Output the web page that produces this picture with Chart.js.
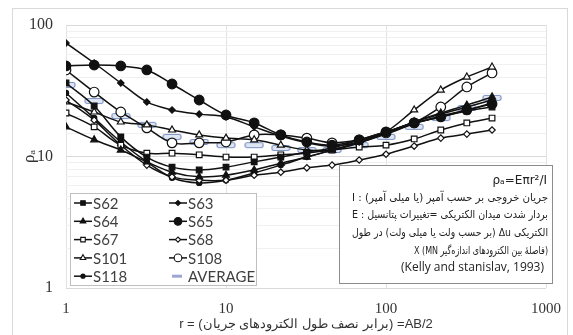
<!DOCTYPE html>
<html>
<head>
<meta charset="utf-8">
<script src="https://cdn.jsdelivr.net/npm/chart.js@4.4.1/dist/chart.umd.min.js"></script>
<style>
  html, body { margin: 0; padding: 0; background: #fff; }
  canvas { display: block; }
</style>
</head>
<body>
<canvas id="chart" width="573" height="335" style="width:573px;height:335px"></canvas>
<script>
// AB/2 values (m)
const rValues = [1, 1.5, 2.2, 3.2, 4.6, 6.8, 10, 15, 22, 32, 46, 68, 100, 150, 220, 320, 460];

// apparent resistivity for each sounding
const s62  = [36.2, 24.2, 14.1, 9.9, 8.3, 7.9, 8.3, 9.1, 9.9, 10.8, 11.6, 13.4, 15.4, 18.0, 20.0, 22.2, 23.8];
const s63  = [73.0, 51.4, 36.2, 26.0, 22.6, 21.0, 20.0, 16.8, 14.3, 12.7, 12.0, 12.9, 15.1, 18.3, 21.0, 23.8, 26.9];
const s64  = [16.8, 13.4, 11.2, 9.1, 7.6, 7.0, 7.2, 7.9, 8.9, 9.9, 11.2, 12.9, 15.1, 18.3, 21.4, 24.6, 28.4];
const s65  = [48.8, 49.6, 48.8, 45.5, 35.6, 26.9, 20.7, 18.0, 14.6, 12.9, 12.2, 13.4, 15.4, 18.0, 20.0, 22.6, 25.1];
const s67  = [21.4, 16.8, 12.2, 10.6, 10.6, 10.3, 9.9, 9.9, 10.3, 10.6, 11.2, 11.8, 12.2, 13.6, 15.9, 18.0, 19.6];
const s68  = [26.9, 18.9, 12.2, 8.6, 7.0, 6.6, 6.6, 7.2, 7.6, 8.2, 8.6, 9.4, 10.4, 12.0, 13.8, 14.8, 15.9];
const s101 = [26.0, 21.8, 18.3, 17.4, 15.9, 14.6, 13.8, 13.4, 12.2, 11.2, 11.2, 12.7, 15.4, 22.6, 32.0, 40.2, 47.9];
const s108 = [45.5, 30.9, 21.8, 16.5, 12.7, 12.7, 12.9, 14.6, 14.6, 13.8, 12.7, 13.4, 15.1, 18.0, 23.8, 33.8, 43.2];
const s118 = [30.4, 19.6, 12.9, 9.1, 6.9, 6.3, 6.6, 7.5, 8.6, 9.9, 11.2, 12.7, 14.8, 17.7, 20.3, 22.6, 25.5];
const averageValues = [35.0, 26.4, 20.3, 17.4, 14.1, 12.9, 12.2, 12.2, 11.6, 11.2, 11.2, 12.2, 14.1, 16.8, 19.6, 23.4, 27.9];

const xTickValues = [1, 10, 100, 1000];
const yTickValues = [1, 10, 100];

const xTitle = "r = (برابر نصف طول الکترودهای جریان) =AB/2";
const yTitle = "ρₐ";

const noteLines = [
  "جریان خروجی بر حسب آمپر (یا میلی آمپر) : I",
  "بردار شدت میدان الکتریکی =تغییرات پتانسیل : E",
  "الکتریکی Δu (بر حسب ولت یا میلی ولت) در طول",
  "(فاصلهٔ بین الکترودهای اندازه‌گیر MN)\u200F X"
];
const noteFormula = "ρₐ=Eπr²/I";
const noteSource = "(Kelly and stanislav, 1993)";

// marker for the AVERAGE series: small outlined dash
function makeAverageMarker() {
  const c = document.createElement("canvas");
  c.width = 20;
  c.height = 8;
  const g = c.getContext("2d");
  g.fillStyle = "#dfe6f3";
  g.strokeStyle = "#7d93c4";
  g.lineWidth = 1.2;
  g.beginPath();
  g.roundRect(1, 1.5, 18, 5, 2);
  g.fill();
  g.stroke();
  return c;
}
const avgMarker = makeAverageMarker();

function series(label, values, style, radius, filled) {
  return {
    label: label,
    data: rValues.map(function(r, i) { return { x: r, y: values[i] }; }),
    borderColor: "#111",
    borderWidth: 1.5,
    tension: 0.35,
    pointStyle: style,
    pointRadius: radius,
    pointBorderWidth: 1.2,
    pointBorderColor: "#111",
    pointBackgroundColor: filled ? "#111" : "#fff",
    fill: false
  };
}

const datasets = [
  series("S62", s62, "rect", 4, true),
  series("S63", s63, "rectRot", 3.2, true),
  series("S64", s64, "triangle", 4, true),
  series("S65", s65, "circle", 4.8, true),
  series("S67", s67, "rect", 4, false),
  series("S68", s68, "rectRot", 3.2, false),
  series("S101", s101, "triangle", 4, false),
  series("S108", s108, "circle", 4.8, false),
  series("S118", s118, "circle", 2.6, true),
  {
    label: "AVERAGE",
    data: rValues.map(function(r, i) { return { x: r, y: averageValues[i] }; }),
    showLine: false,
    pointStyle: avgMarker,
    pointRadius: 8,
    borderColor: "#7d93c4",
    backgroundColor: "#dfe6f3"
  }
];

const framePlugin = {
  id: "frame",
  beforeDraw: function(chart) {
    const ctx = chart.ctx;
    ctx.save();
    ctx.fillStyle = "#fff";
    ctx.fillRect(0, 0, chart.width, chart.height);
    ctx.strokeStyle = "#d9d9d9";
    ctx.lineWidth = 1;
    ctx.strokeRect(12.5, 8.5, 555, 340);
    ctx.restore();
  }
};

const legendBoxPlugin = {
  id: "legendBox",
  afterDraw: function(chart) {
    const ctx = chart.ctx;
    ctx.save();
    ctx.fillStyle = "#fff";
    ctx.strokeStyle = "#bfbfbf";
    ctx.lineWidth = 1;
    ctx.fillRect(70.5, 193.5, 186, 92);
    ctx.strokeRect(70.5, 193.5, 186, 92);

    ctx.font = "15px Lato";
    ctx.textBaseline = "middle";
    ctx.textAlign = "left";
    chart.data.datasets.forEach(function(ds, i) {
      const col = i % 2;
      const row = Math.floor(i / 2);
      const mx = col === 0 ? 83 : 178;
      const y = 203 + row * 18.3;
      if (ds.label === "AVERAGE") {
        ctx.strokeStyle = "#9ba6d2";
        ctx.lineWidth = 3;
        ctx.beginPath();
        ctx.moveTo(mx - 6, y);
        ctx.lineTo(mx + 4, y);
        ctx.stroke();
      } else {
        ctx.strokeStyle = "#111";
        ctx.lineWidth = 1.5;
        ctx.beginPath();
        ctx.moveTo(mx - 9, y);
        ctx.lineTo(mx + 9, y);
        ctx.stroke();
        ctx.fillStyle = ds.pointBackgroundColor;
        ctx.strokeStyle = "#111";
        ctx.lineWidth = 1.1;
        Chart.helpers.drawPoint(ctx, {
          pointStyle: ds.pointStyle,
          radius: ds.pointRadius * 0.8,
          rotation: 0,
          borderWidth: 1.1
        }, mx, y);
      }
      ctx.fillStyle = "#404040";
      ctx.fillText(ds.label, mx + 10, y + 1);
    });
    ctx.restore();
  }
};

const noteBoxPlugin = {
  id: "noteBox",
  afterDraw: function(chart) {
    const ctx = chart.ctx;
    ctx.save();
    ctx.fillStyle = "#fff";
    ctx.strokeStyle = "#8c8c8c";
    ctx.lineWidth = 1;
    ctx.fillRect(339.5, 165.5, 213, 118);
    ctx.strokeRect(339.5, 165.5, 213, 118);

    ctx.fillStyle = "#222";
    ctx.textBaseline = "middle";
    ctx.textAlign = "right";
    ctx.font = "12px 'DejaVu Sans'";
    ctx.fillText(noteFormula, 547, 181);

    ctx.direction = "rtl";
    ctx.textAlign = "right";
    ctx.font = "11px 'DejaVu Sans'";
    const widths = [196, 196, 196, 134];
    noteLines.forEach(function(line, i) {
      ctx.fillText(line, 548, 198 + i * 17.6, widths[i]);
    });
    ctx.direction = "ltr";
    ctx.font = "12px 'Open Sans'";
    ctx.fillText(noteSource, 544, 268);
    ctx.restore();
  }
};

new Chart(document.getElementById("chart"), {
  type: "line",
  data: { datasets: datasets },
  options: {
    responsive: false,
    animation: false,
    layout: { padding: { left: 10, right: 18, top: 25, bottom: 0 } },
    plugins: {
      legend: { display: false },
      tooltip: { enabled: false }
    },
    scales: {
      x: {
        type: "logarithmic",
        min: 1,
        max: 1000,
        afterBuildTicks: function(scale) {
          scale.ticks = xTickValues.map(function(v) { return { value: v }; });
        },
        afterFit: function(scale) { scale.height = 47; },
        border: { display: false },
        grid: { color: "#e3e3e3", drawTicks: false },
        ticks: {
          autoSkip: false,
          maxRotation: 0,
          padding: 12,
          color: "#333",
          font: { family: "Liberation Serif", size: 15 },
          callback: function(v) { return String(v); }
        },
        title: {
          display: true,
          text: xTitle,
          color: "#333",
          font: { family: "Liberation Sans", size: 13 },
          padding: { top: 0, bottom: 3 }
        }
      },
      y: {
        type: "logarithmic",
        min: 1,
        max: 100,
        afterFit: function(scale) { scale.width = 56; },
        border: { display: false },
        grid: {
          drawTicks: false,
          color: function(c) {
            return yTickValues.indexOf(c.tick.value) >= 0 ? "#d9d9d9" : "#f0f0f0";
          }
        },
        ticks: {
          autoSkip: false,
          padding: 13,
          color: "#333",
          font: { family: "Liberation Serif", size: 16 },
          callback: function(v) {
            return yTickValues.indexOf(v) >= 0 ? String(v) : "";
          }
        },
        title: {
          display: true,
          text: yTitle,
          color: "#333",
          font: { family: "Liberation Serif", size: 17 },
          padding: { top: 9, bottom: 0 }
        }
      }
    }
  },
  plugins: [framePlugin, legendBoxPlugin, noteBoxPlugin]
});
</script>
</body>
</html>
